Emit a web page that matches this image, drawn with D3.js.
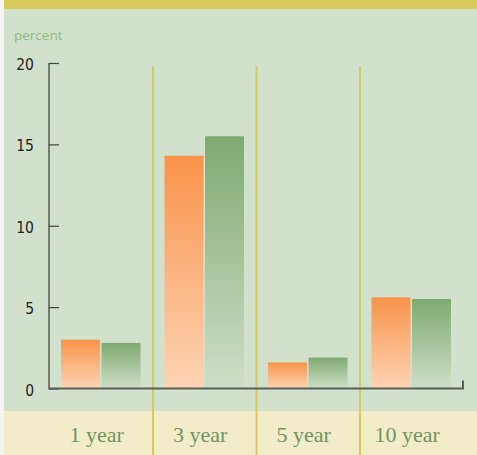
<!DOCTYPE html>
<html>
<head>
<meta charset="utf-8">
<script src="https://cdn.jsdelivr.net/npm/d3@7"></script>
<style>
  html, body { margin: 0; padding: 0; background: #f4f4f2; }
  svg { display: block; }
</style>
</head>
<body>
<div id="chart"></div>
<script>
// chart values
var periods = ["1 year", "3 year", "5 year", "10 year"];
var seriesNames = ["a", "b"];
var seriesA = [3.0, 14.3, 1.6, 5.6];
var seriesB = [2.8, 15.5, 1.9, 5.5];
var yTicks = [0, 5, 10, 15, 20];

var width = 477,
  height = 455,
  plotLeft = 49,
  plotRight = 463,
  plotTop = 63,
  zero = 388.5;

var svg = d3.select("#chart").append("svg")
  .attr("width", width)
  .attr("height", height);

var defs = svg.append("defs");
function grad(id, c0, c1) {
  var g = defs.append("linearGradient").attr("id", id)
    .attr("x1", 0).attr("y1", 0).attr("x2", 0).attr("y2", 1);
  g.append("stop").attr("offset", "0%").attr("stop-color", c0);
  g.append("stop").attr("offset", "100%").attr("stop-color", c1);
}
grad("gA", "#f8934a", "#fdd4b4");
grad("gB", "#7eaa70", "#cfdec7");

// backgrounds
svg.append("rect").attr("x", 4).attr("y", 0).attr("width", width - 4).attr("height", height)
  .attr("fill", "#d2e1cc");
svg.append("rect").attr("x", 4).attr("y", 0).attr("width", width - 4).attr("height", 9)
  .attr("fill", "#d7ca5b");
svg.append("rect").attr("x", 4).attr("y", 411).attr("width", width - 4).attr("height", height - 411)
  .attr("fill", "#f2ecc8");

var x = d3.scaleBand().domain(periods).range([plotLeft, plotRight]);
var xs = d3.scaleBand().domain(seriesNames).range([12, x.bandwidth() - 12]).paddingInner(0.04);
var y = d3.scaleLinear().domain([0, 20]).range([zero, plotTop]);

// dividers
svg.append("g").selectAll("line")
  .data(periods.slice(1))
  .join("line")
  .attr("x1", function(d) { return x(d) + 0.5; })
  .attr("x2", function(d) { return x(d) + 0.5; })
  .attr("y1", 66)
  .attr("y2", height)
  .attr("stroke", "#d6ca5a")
  .attr("stroke-width", 2);

// bars
var rows = periods.map(function(p, i) {
  return { period: p, values: [seriesA[i], seriesB[i]] };
});
var groups = svg.append("g").selectAll("g")
  .data(rows)
  .join("g")
  .attr("transform", function(d) { return "translate(" + x(d.period) + ",0)"; });
groups.selectAll("rect")
  .data(function(d) { return d.values.map(function(v, j) { return { s: seriesNames[j], v: v }; }); })
  .join("rect")
  .attr("x", function(d) { return xs(d.s); })
  .attr("width", xs.bandwidth())
  .attr("y", function(d) { return y(d.v); })
  .attr("height", function(d) { return y(0) - y(d.v); })
  .attr("fill", function(d) { return d.s == "a" ? "url(#gA)" : "url(#gB)"; });

// y axis
var yAxis = svg.append("g")
  .attr("transform", "translate(" + plotLeft + ",0)")
  .call(d3.axisRight(y).tickValues(yTicks).tickSize(10).tickFormat(""));
yAxis.select(".domain").remove();
yAxis.selectAll(".tick line").attr("stroke", "#444").attr("stroke-width", 1.2);
svg.append("line")
  .attr("x1", plotLeft).attr("x2", plotLeft).attr("y1", plotTop).attr("y2", zero + 1)
  .attr("stroke", "#444").attr("stroke-width", 1.3);
svg.append("g").selectAll("text")
  .data(yTicks)
  .join("text")
  .attr("x", 34)
  .attr("y", function(d) { return y(d) + 7; })
  .attr("text-anchor", "end")
  .attr("font-family", "'Liberation Sans Narrow', 'DejaVu Sans Condensed', sans-serif")
  .attr("font-size", 15.5)
  .attr("fill", "#222")
  .text(function(d) { return d; });

// x axis baseline
svg.append("path")
  .attr("d", "M" + plotLeft + "," + zero + "H" + plotRight + "V" + (zero - 8))
  .attr("fill", "none")
  .attr("stroke", "#5a5e58")
  .attr("stroke-width", 2);

// category labels
svg.append("g").selectAll("text")
  .data(periods)
  .join("text")
  .attr("x", function(d) { return x(d) + x.bandwidth() / 2 - 4; })
  .attr("y", 442)
  .attr("text-anchor", "middle")
  .attr("font-family", "'Liberation Serif', 'DejaVu Serif', serif")
  .attr("font-size", 22)
  .attr("fill", "#6e9462")
  .text(function(d) { return d; });

svg.append("text")
  .attr("x", 14)
  .attr("y", 40)
  .attr("font-family", "'Open Sans', sans-serif")
  .attr("font-size", 13.5)
  .attr("fill", "#8dbb7f")
  .text("percent");
</script>
</body>
</html>
